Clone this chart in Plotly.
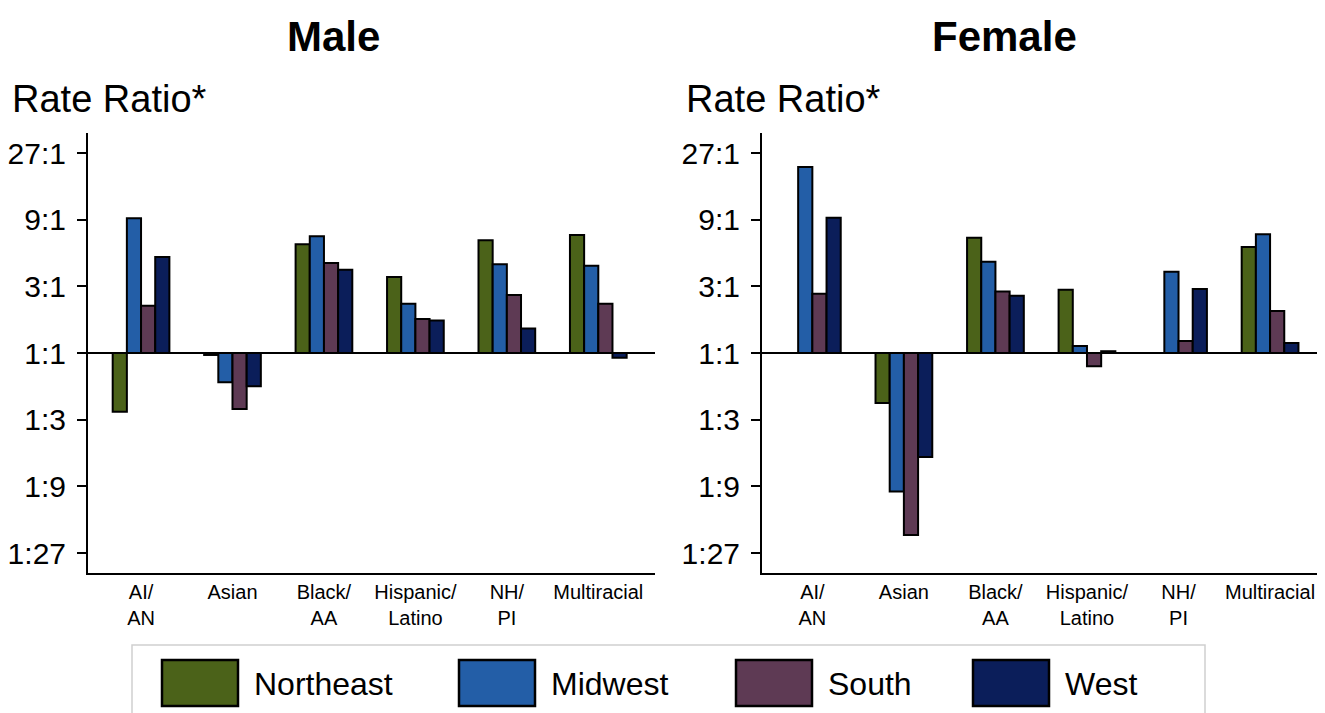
import numpy as np
import plotly.graph_objects as go

categories = ["AI/<br>AN", "Asian", "Black/<br>AA", "Hispanic/<br>Latino", "NH/<br>PI", "Multiracial"]
regions = ["Northeast", "Midwest", "South", "West"]
colors = ["#4B6219", "#235EA7", "#5E3A54", "#0B1E5A"]

# Rate ratios (region rate / reference rate)
male_northeast = [0.380, 0.968, 5.99, 3.50, 6.40, 6.99]
male_midwest = [9.20, 0.617, 6.84, 2.25, 4.31, 4.22]
male_south = [2.18, 0.397, 4.41, 1.75, 2.60, 2.25]
male_west = [4.86, 0.577, 3.95, 1.71, 1.50, 0.926]

female_northeast = [None, 0.439, 6.69, 2.84, None, 5.74]
female_midwest = [21.4, 0.102, 4.50, 1.12, 3.82, 7.07]
female_south = [2.66, 0.0498, 2.75, 0.803, 1.22, 2.00]
female_west = [9.30, 0.180, 2.57, 1.03, 2.87, 1.18]

tick_vals = [1/27, 1/9, 1/3, 1, 3, 9, 27]
tick_text = ["1:27", "1:9", "1:3", "1:1", "3:1", "9:1", "27:1"]

panels = [
    ("Male", [male_northeast, male_midwest, male_south, male_west], "x", "y"),
    ("Female", [female_northeast, female_midwest, female_south, female_west], "x2", "y2"),
]

# page body has an 8px margin; figure occupies the rest of the 1325x713 window
OFF = 8
W, H = 1325 - OFF, 713 - OFF
def px(x):
    return (x - OFF) / W
def py(y):
    return 1 - (y - OFF) / H

FONT = "Liberation Sans, Arial, sans-serif"

fig = go.Figure()
xcats = list(range(len(categories)))
for title, series, xa, ya in panels:
    for name, vals, col in zip(regions, series, colors):
        yv = [None if v is None else v - 1 for v in vals]
        fig.add_trace(go.Bar(
            x=xcats, y=yv, base=1, name=name, marker_color=col,
            marker_line_color="black", marker_line_width=2,
            xaxis=xa, yaxis=ya, showlegend=False,
        ))

log_lim = 3.3 * np.log10(3)
yaxis_common = dict(
    type="log", range=[-log_lim, log_lim], tickvals=tick_vals, ticktext=tick_text,
    showline=True, linecolor="black", linewidth=2, ticks="outside", ticklen=9,
    tickcolor="black", tickwidth=1.5, showgrid=False, zeroline=False,
    tickfont=dict(size=30, color="black", family=FONT),
    domain=[py(573), py(133)], ticklabelstandoff=5,
)
xaxis_common = dict(
    tickvals=xcats, ticktext=categories, range=[-0.58, 5.62],
    showline=True, linecolor="black", linewidth=2, ticks="", showgrid=False,
    zeroline=False, tickfont=dict(size=20, color="black", family=FONT),
)
fig.update_layout(
    width=W, height=H, margin=dict(l=0, r=0, t=0, b=0),
    plot_bgcolor="white", paper_bgcolor="white",
    barmode="group", bargap=0.38, bargroupgap=0,
    font=dict(family=FONT, color="black"),
    xaxis=dict(domain=[px(88), px(655)], anchor="y", **xaxis_common),
    yaxis=dict(anchor="x", **yaxis_common),
    xaxis2=dict(domain=[px(762), px(1325)], anchor="y2", **{**xaxis_common, "range": [-0.55, 5.6]}),
    yaxis2=dict(anchor="x2", **yaxis_common),
)

# 1:1 reference lines
for xr, yr in [("x domain", "y domain"), ("x2 domain", "y2 domain")]:
    fig.add_shape(type="line", xref=xr, yref=yr, x0=0, x1=1, y0=0.5, y1=0.5,
                  line=dict(color="black", width=2), layer="above")

# Titles and axis labels
fig.add_annotation(text="<b>Male</b>", x=px(333), y=py(36), xref="paper", yref="paper",
                   xanchor="center", yanchor="middle",
                   showarrow=False, font=dict(size=42, family=FONT, color="black"))
fig.add_annotation(text="<b>Female</b>", x=px(1005), y=py(36), xref="paper", yref="paper",
                   xanchor="center", yanchor="middle",
                   showarrow=False, font=dict(size=42, family=FONT, color="black"))
for xl in [10, 684]:
    fig.add_annotation(text="Rate Ratio*", x=px(xl), y=py(99), xref="paper", yref="paper",
                       xanchor="left", yanchor="middle", showarrow=False,
                       font=dict(size=38, family=FONT, color="black"))

# Custom legend
fig.add_shape(type="rect", xref="paper", yref="paper", x0=px(132), x1=px(1205), y0=py(730), y1=py(645),
              line=dict(color="#D0D0D0", width=1.5), fillcolor="rgba(0,0,0,0)")
swatch_x = [162, 459, 736, 973]
for sx, name, col in zip(swatch_x, regions, colors):
    fig.add_shape(type="rect", xref="paper", yref="paper", x0=px(sx), x1=px(sx + 76),
                  y0=py(706), y1=py(660), fillcolor=col, line=dict(color="black", width=2.5))
    fig.add_annotation(text=name, x=px(sx + 90), y=py(684), xref="paper", yref="paper",
                       xanchor="left", yanchor="middle", showarrow=False,
                       font=dict(size=32, family=FONT, color="black"))

fig.write_html("out.html")
